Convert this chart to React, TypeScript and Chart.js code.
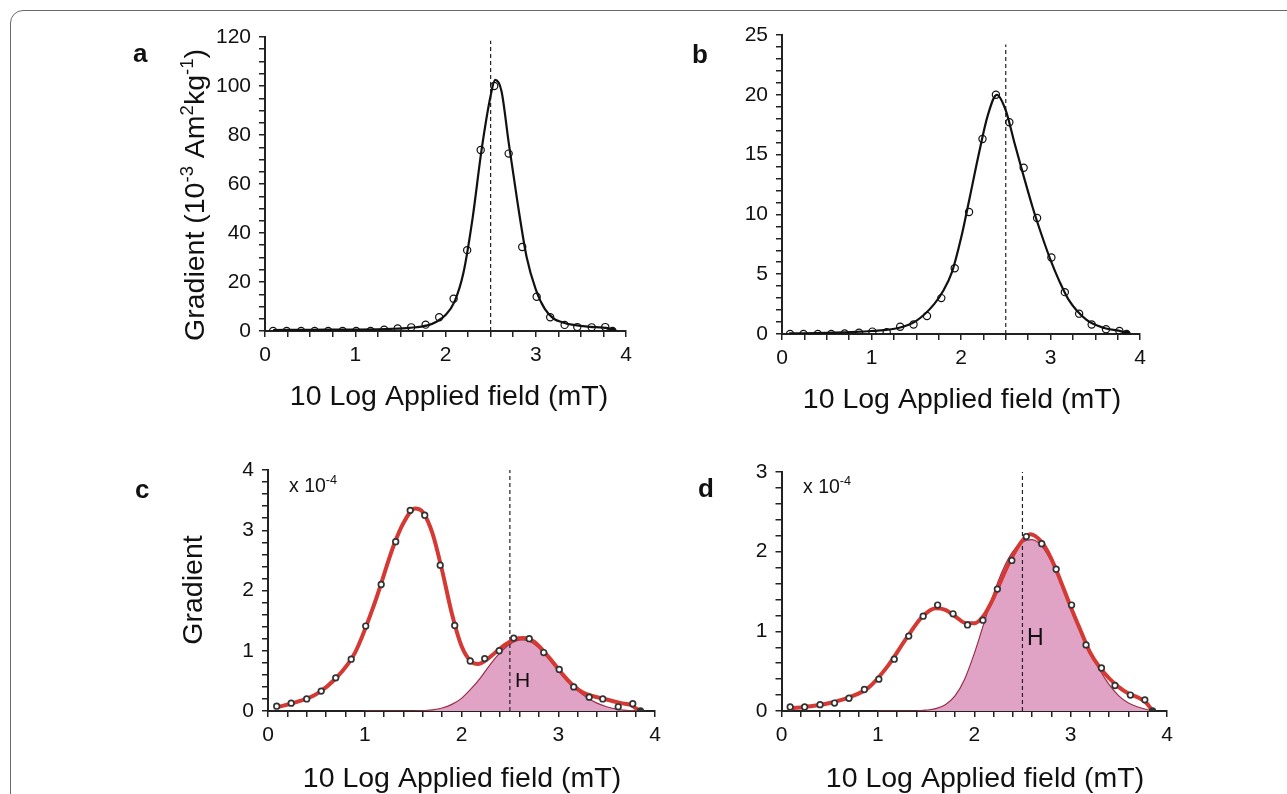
import React, { useEffect, useRef } from "react";
import { Chart, registerables } from "chart.js";

Chart.register(...registerables);

// ---------- data ----------
const fieldX = [0.09, 0.24, 0.40, 0.55, 0.70, 0.86, 1.01, 1.17, 1.32, 1.47, 1.62, 1.78, 1.93, 2.09, 2.24, 2.39, 2.54, 2.70, 2.85, 3.01, 3.16, 3.32, 3.46, 3.62, 3.77, 3.85];

const aPoints = [0, 0, 0, 0, 0, 0, 0, 0, 0.5, 1, 1.5, 2.6, 5.6, 13.2, 33, 73.9, 100, 72.4, 34.3, 14, 5.6, 2.5, 1.6, 1.5, 1.6, 0];
const bPoints = [0, 0, 0, 0, 0.05, 0.1, 0.2, 0.15, 0.6, 0.8, 1.5, 3.0, 5.5, 10.2, 16.3, 20.0, 17.7, 13.9, 9.7, 6.4, 3.5, 1.7, 0.8, 0.4, 0.25, 0];
const cPoints = [0.08, 0.13, 0.2, 0.33, 0.55, 0.86, 1.41, 2.1, 2.81, 3.33, 3.25, 2.42, 1.42, 0.83, 0.87, 1.0, 1.21, 1.2, 0.97, 0.69, 0.4, 0.23, 0.2, 0.07, 0.12, 0];
const dPoints = [0.05, 0.05, 0.08, 0.1, 0.16, 0.27, 0.4, 0.65, 0.94, 1.19, 1.33, 1.22, 1.08, 1.14, 1.53, 1.89, 2.19, 2.1, 1.78, 1.33, 0.83, 0.54, 0.32, 0.2, 0.14, 0];

const aFitX = [0.09, 0.5, 1.0, 1.4, 1.6, 1.8, 1.9, 2.0, 2.1, 2.2, 2.3, 2.4, 2.5, 2.55, 2.62, 2.7, 2.8, 2.9, 3.0, 3.1, 3.2, 3.3, 3.4, 3.6, 3.8, 3.85];
const aFitY = [0.4, 0.5, 0.6, 0.9, 1.3, 2.3, 3.8, 6.5, 12, 24, 46, 74, 96, 102.5, 98, 77, 52, 30, 17, 9, 5, 3.5, 2.6, 1.7, 1.2, 0.3];

const bFitX = [0.08, 0.5, 1.0, 1.3, 1.5, 1.7, 1.8, 1.9, 2.0, 2.1, 2.2, 2.3, 2.4, 2.5, 2.6, 2.7, 2.8, 2.9, 3.0, 3.1, 3.2, 3.4, 3.6, 3.8, 3.85];
const bFitY = [0.05, 0.1, 0.25, 0.5, 1.1, 2.5, 3.6, 5.2, 8.0, 11.5, 15.1, 18.3, 20.0, 18.7, 15.9, 13.2, 10.6, 8.3, 6.2, 4.4, 2.9, 1.2, 0.5, 0.2, 0.05];

const cFitX = [0.09, 0.3, 0.5, 0.7, 0.9, 1.1, 1.3, 1.4, 1.52, 1.6, 1.7, 1.8, 1.9, 2.0, 2.1, 2.17, 2.25, 2.35, 2.45, 2.55, 2.64, 2.75, 2.85, 2.95, 3.05, 3.15, 3.25, 3.35, 3.5, 3.65, 3.75, 3.84];
const cFitY = [0.06, 0.15, 0.28, 0.54, 0.97, 1.78, 2.75, 3.12, 3.36, 3.3, 2.95, 2.33, 1.62, 1.08, 0.82, 0.78, 0.84, 0.97, 1.1, 1.19, 1.21, 1.15, 0.99, 0.8, 0.6, 0.43, 0.31, 0.25, 0.19, 0.13, 0.1, 0];

const cHX = [1.0, 1.5, 1.7, 1.8, 1.9, 2.0, 2.1, 2.2, 2.3, 2.4, 2.5, 2.62, 2.7, 2.8, 2.9, 3.0, 3.1, 3.2, 3.3, 3.4, 3.5, 3.6, 3.7, 3.84];
const cHY = [0, 0, 0.02, 0.05, 0.11, 0.21, 0.37, 0.56, 0.78, 0.97, 1.11, 1.18, 1.16, 1.05, 0.87, 0.67, 0.49, 0.34, 0.22, 0.13, 0.07, 0.03, 0.01, 0];

const dFitX = [0.08, 0.3, 0.5, 0.7, 0.9, 1.1, 1.3, 1.45, 1.6, 1.7, 1.8, 1.92, 2.0, 2.1, 2.2, 2.3, 2.4, 2.5, 2.58, 2.7, 2.8, 2.9, 3.0, 3.1, 3.2, 3.3, 3.4, 3.5, 3.6, 3.7, 3.78, 3.85];
const dFitY = [0.03, 0.06, 0.1, 0.17, 0.29, 0.56, 0.92, 1.17, 1.29, 1.27, 1.19, 1.1, 1.1, 1.2, 1.42, 1.7, 1.95, 2.14, 2.22, 2.12, 1.91, 1.62, 1.31, 1.02, 0.74, 0.55, 0.41, 0.3, 0.22, 0.17, 0.11, 0];

const dHX = [1.0, 1.4, 1.5, 1.6, 1.7, 1.8, 1.9, 2.0, 2.1, 2.2, 2.3, 2.4, 2.5, 2.6, 2.7, 2.8, 2.9, 3.0, 3.1, 3.2, 3.3, 3.4, 3.5, 3.6, 3.7, 3.85];
const dHY = [0, 0, 0.01, 0.03, 0.08, 0.19, 0.4, 0.72, 1.1, 1.47, 1.78, 2.0, 2.12, 2.15, 2.07, 1.88, 1.62, 1.33, 1.04, 0.76, 0.52, 0.33, 0.19, 0.1, 0.05, 0];

const dashX = 2.5;
const xMin = 0;
const xMax = 4;

const xTitle = "10 Log Applied field (mT)";

// ---------- styles ----------
const FONT = "'Liberation Sans', Arial, Helvetica, sans-serif";
const AXIS = "#222222";
const RED = "#d43a33";
const PINK = "#e0a2c5";
const HLINE = "#9a3045";
const TITLE_SIZE = 28.5;

type Seg = { t: string; sup?: boolean };
type TextItem = {
  segs: Seg[];
  x: number; // page coords
  y: number; // baseline
  size: number;
  bold?: boolean;
  align?: "left" | "center";
  rotate?: boolean;
};

type Spec = {
  left: number; top: number; w: number; h: number;
  area: { l: number; t: number; r: number; b: number };
  xStep: number; yMax: number; yStep: number; yMajor: number;
  points: number[];
  fitX: number[]; fitY: number[];
  hX?: number[]; hY?: number[];
  dashTop: number;
  red: boolean;
  texts: TextItem[];
};

const xy = (xs: number[], ys: number[]) => xs.map((x, i) => ({ x, y: ys[i] }));

function drawRich(ctx: CanvasRenderingContext2D, it: TextItem, ox: number, oy: number) {
  const weight = it.bold ? "bold " : "";
  const supSize = it.size * 0.65;
  const widths = it.segs.map((s) => {
    ctx.font = `${weight}${s.sup ? supSize : it.size}px ${FONT}`;
    return ctx.measureText(s.t).width;
  });
  const total = widths.reduce((a, b) => a + b, 0);
  ctx.save();
  ctx.translate(it.x - ox, it.y - oy);
  if (it.rotate) ctx.rotate(-Math.PI / 2);
  ctx.fillStyle = "#111";
  ctx.textBaseline = "alphabetic";
  ctx.textAlign = "left";
  let cx = it.align === "center" ? -total / 2 : 0;
  it.segs.forEach((s, i) => {
    ctx.font = `${weight}${s.sup ? supSize : it.size}px ${FONT}`;
    ctx.fillText(s.t, cx, s.sup ? -it.size * 0.4 : 0);
    cx += widths[i];
  });
  ctx.restore();
}

function buildConfig(spec: Spec): any {
  const padTop = spec.area.t - spec.top;
  const padRight = spec.left + spec.w - spec.area.r;
  const yWidth = spec.area.l - spec.left;
  const xHeight = spec.top + spec.h - spec.area.b;
  const n = spec.points.length;

  const datasets: any[] = [];
  datasets.push({
    label: "points",
    data: xy(fieldX, spec.points),
    showLine: false,
    pointRadius: spec.red ? 2.8 : 3.6,
    pointHoverRadius: 0,
    pointBorderWidth: spec.red ? 1.7 : 1.2,
    pointBorderColor: spec.red ? "#333" : "#111",
    pointBackgroundColor: spec.points.map((_, i) => (i === n - 1 ? (spec.red ? "#333" : "#111") : spec.red ? "#ffffff" : "rgba(255,255,255,0)")),
    order: 0,
  });
  datasets.push({
    label: "fit",
    data: xy(spec.fitX, spec.fitY),
    showLine: true,
    borderColor: spec.red ? RED : "#111",
    borderWidth: spec.red ? 4 : 2.2,
    pointRadius: 0,
    cubicInterpolationMode: "monotone",
    fill: false,
    order: 1,
  });
  datasets.push({
    label: "dash",
    data: [{ x: dashX, y: 0 }, { x: dashX, y: spec.dashTop }],
    showLine: true,
    borderColor: "#222",
    borderWidth: 1.2,
    borderDash: [4, 3],
    pointRadius: 0,
    fill: false,
    order: 2,
  });
  if (spec.hX && spec.hY) {
    datasets.push({
      label: "H",
      data: xy(spec.hX, spec.hY),
      showLine: true,
      borderColor: HLINE,
      borderWidth: 1.2,
      backgroundColor: PINK,
      pointRadius: 0,
      cubicInterpolationMode: "monotone",
      fill: "origin",
      order: 3,
    });
  }

  const textPlugin = {
    id: "panelText" + spec.left + "_" + spec.top,
    afterDraw(chart: any) {
      const ctx = chart.ctx;
      spec.texts.forEach((it) => drawRich(ctx, it, spec.left, spec.top));
    },
  };

  const isWhole = (v: number) => Math.abs(v - Math.round(v)) < 1e-6;

  const common = (step: number, isX: boolean, max: number) => ({
    type: "linear",
    position: isX ? "bottom" : "left",
    min: 0,
    max,
    offset: false,
    grid: {
      drawOnChartArea: false,
      drawTicks: true,
      tickLength: 6,
      color: AXIS,
      lineWidth: 1.5,
    },
    border: { display: true, color: AXIS, width: 2 },
    ticks: {
      stepSize: step,
      autoSkip: false,
      maxRotation: 0,
      minRotation: 0,
      maxTicksLimit: 1000,
      color: "#111",
      padding: isX ? 6 : 8,
      font: { family: FONT, size: 21 },
      callback: (v: number) => {
        if (isX) return isWhole(v) ? String(Math.round(v)) : "";
        return isWhole(v / spec.yMajor) ? String(Math.round(v)) : "";
      },
    },
    afterFit: (scale: any) => {
      if (isX) scale.height = xHeight;
      else scale.width = yWidth;
      scale.paddingTop = 0;
      scale.paddingBottom = 0;
      scale.paddingLeft = 0;
      scale.paddingRight = 0;
    },
  });

  return {
    type: "scatter",
    data: { datasets },
    options: {
      responsive: false,
      animation: false,
      devicePixelRatio: 1,
      events: [],
      layout: { padding: { top: padTop, right: padRight, left: 0, bottom: 0 } },
      plugins: { legend: { display: false }, tooltip: { enabled: false } },
      scales: {
        x: { ...common(spec.xStep, true, xMax), min: xMin },
        y: common(spec.yStep, false, spec.yMax),
      },
    },
    plugins: [textPlugin],
  };
}

const specs: Spec[] = [
  {
    left: 110, top: 20, w: 540, h: 420,
    area: { l: 265, t: 37, r: 626, b: 331 },
    xStep: 0.25, yMax: 120, yStep: 5, yMajor: 20,
    points: aPoints, fitX: aFitX, fitY: aFitY,
    dashTop: 118.5, red: false,
    texts: [
      { segs: [{ t: "a" }], x: 133, y: 62, size: 26, bold: true },
      { segs: [{ t: xTitle }], x: 449, y: 405, size: TITLE_SIZE, align: "center" },
      {
        segs: [
          { t: "Gradient (10" }, { t: "-3", sup: true }, { t: " Am" }, { t: "2", sup: true },
          { t: "kg" }, { t: "-1", sup: true }, { t: ")" },
        ],
        x: 204, y: 195, size: TITLE_SIZE, align: "center", rotate: true,
      },
    ],
  },
  {
    left: 670, top: 20, w: 570, h: 420,
    area: { l: 782, t: 35, r: 1140, b: 334 },
    xStep: 0.25, yMax: 25, yStep: 1, yMajor: 5,
    points: bPoints, fitX: bFitX, fitY: bFitY,
    dashTop: 24.2, red: false,
    texts: [
      { segs: [{ t: "b" }], x: 692, y: 63, size: 26, bold: true },
      { segs: [{ t: xTitle }], x: 962, y: 408, size: TITLE_SIZE, align: "center" },
    ],
  },
  {
    left: 110, top: 450, w: 560, h: 344,
    area: { l: 268, t: 470, r: 655, b: 711 },
    xStep: 0.2, yMax: 4, yStep: 0.2, yMajor: 1,
    points: cPoints, fitX: cFitX, fitY: cFitY, hX: cHX, hY: cHY,
    dashTop: 4.0, red: true,
    texts: [
      { segs: [{ t: "c" }], x: 135, y: 498, size: 26, bold: true },
      { segs: [{ t: xTitle }], x: 462, y: 787, size: TITLE_SIZE, align: "center" },
      { segs: [{ t: "Gradient" }], x: 202, y: 590, size: TITLE_SIZE, align: "center", rotate: true },
      { segs: [{ t: "x 10" }, { t: "-4", sup: true }], x: 289, y: 492, size: 19.5 },
      { segs: [{ t: "H" }], x: 515, y: 687, size: 21 },
    ],
  },
  {
    left: 670, top: 450, w: 570, h: 344,
    area: { l: 781.5, t: 472, r: 1167, b: 711 },
    xStep: 0.2, yMax: 3, yStep: 0.2, yMajor: 1,
    points: dPoints, fitX: dFitX, fitY: dFitY, hX: dHX, hY: dHY,
    dashTop: 3.0, red: true,
    texts: [
      { segs: [{ t: "d" }], x: 698, y: 497, size: 26, bold: true },
      { segs: [{ t: xTitle }], x: 985, y: 787, size: TITLE_SIZE, align: "center" },
      { segs: [{ t: "x 10" }, { t: "-4", sup: true }], x: 803, y: 493, size: 19.5 },
      { segs: [{ t: "H" }], x: 1027, y: 645, size: 23 },
    ],
  },
];

function Panel({ spec }: { spec: Spec }) {
  const ref = useRef<HTMLCanvasElement | null>(null);
  useEffect(() => {
    if (!ref.current) return;
    const chart = new Chart(ref.current, buildConfig(spec));
    return () => chart.destroy();
  }, [spec]);
  return (
    <canvas
      ref={ref}
      width={spec.w}
      height={spec.h}
      style={{ position: "absolute", left: spec.left, top: spec.top, width: spec.w, height: spec.h }}
    />
  );
}

export default function App() {
  return (
    <div style={{ position: "fixed", left: 0, top: 0, width: 1287, height: 794, overflow: "hidden", background: "#fff" }}>
      <div
        style={{
          position: "absolute",
          left: 10,
          top: 10,
          width: 1320,
          height: 1000,
          border: "1.5px solid #6a6a6a",
          borderRadius: 13,
          boxSizing: "border-box",
        }}
      />
      {specs.map((s, i) => (
        <Panel key={i} spec={s} />
      ))}
    </div>
  );
}
